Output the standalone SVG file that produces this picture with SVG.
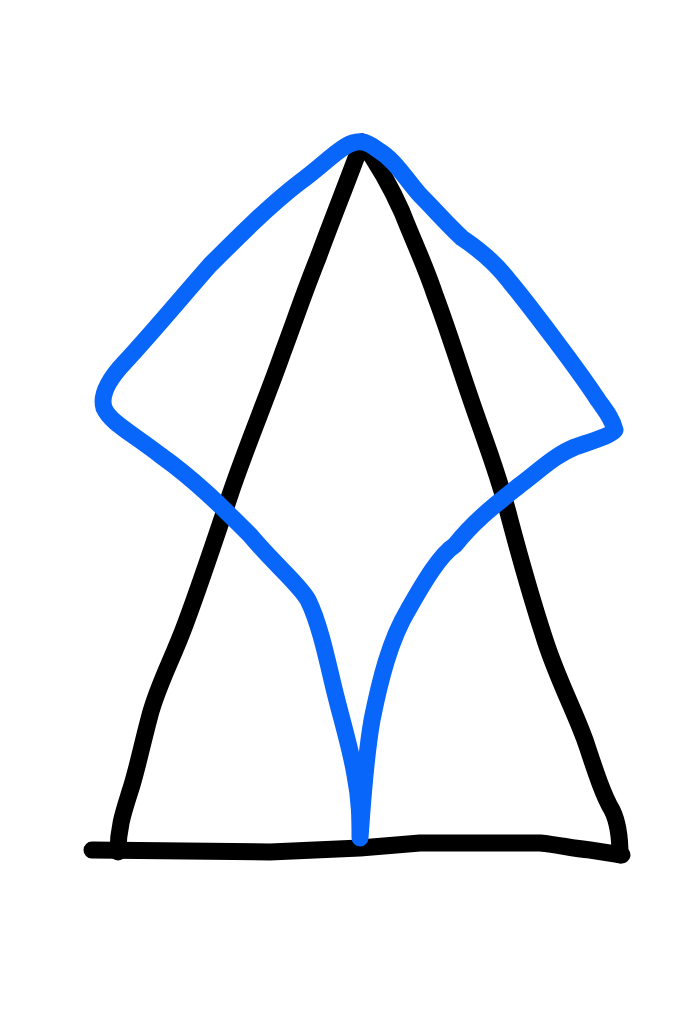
<svg xmlns="http://www.w3.org/2000/svg" width="694" height="1024" viewBox="0 0 694 1024">
<style>
.ink{fill:none;stroke-linecap:round;stroke-linejoin:round;stroke-width:17}
.black{stroke:#000}
.blue{stroke:#0866fb}
</style>
<rect width="694" height="1024" fill="#fff"/>
<g id="triangle">
<path class="ink black" d="M362,142 C350,175 330,225 318,258 C305,290 295,320 283,352 C268,395 245,450 230,495 C215,540 200,585 185,625 C172,660 158,685 150,715 C142,745 138,765 132,785 C125,808 118,825 118,852"/>
<path class="ink black" d="M92,850 L270,852 L360,848 L420,843 L540,843 C560,845 570,848 590,850 L622,855"/>
<path class="ink black" d="M362,142 C375,160 390,185 402,212 C415,245 425,265 435,295 C450,335 462,375 478,420 C492,460 500,480 510,520 C522,565 532,600 545,640 C558,680 572,705 585,740 C595,770 603,795 612,810 C618,822 620,835 620,855"/>
</g>
<g id="blue-shape">
<path class="ink blue" d="M362,142 C345,140 330,160 300,182 C270,205 240,235 210,265 C175,305 150,335 125,362 C108,380 100,395 104,408 C110,422 130,432 160,455 C195,480 220,505 250,535 C275,565 300,585 308,600 C318,620 325,650 332,680 C340,715 350,745 355,775 C360,800 360,820 360,838 C362,810 365,760 372,720 C380,680 390,640 408,610 C425,580 440,555 455,545 C475,520 495,505 520,485 C540,470 555,455 575,447 C595,440 612,435 615,430 C612,418 605,410 598,400 C585,380 570,360 555,340 C540,320 525,300 510,282 C495,262 480,250 462,238 C445,222 435,210 420,195 C405,178 395,160 378,150 C370,144 366,142 362,142 Z"/>
</g>
</svg>
